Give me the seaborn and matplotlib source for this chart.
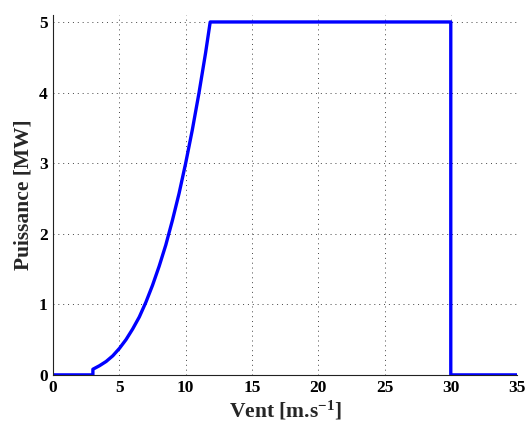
import numpy as np
import pandas as pd
import matplotlib
matplotlib.use('Agg')
import matplotlib.pyplot as plt
import seaborn as sns
from matplotlib.ticker import MultipleLocator

# courbe de puissance
vent = [0, 3.0, 3.0, 3.5, 4.0, 4.5, 5.0, 5.5, 6.0, 6.5, 7.0, 7.5, 8.0, 8.5,
        9.0, 9.5, 10.0, 10.5, 11.0, 11.5, 11.85, 30.0, 30.0, 35.0]
puissance = [0, 0, 0.08, 0.13, 0.19, 0.27, 0.375, 0.50, 0.65, 0.82, 1.03, 1.27,
             1.54, 1.84, 2.19, 2.57, 3.0, 3.47, 3.99, 4.56, 5.0, 5.0, 0, 0]
x_ticks = [0, 5, 10, 15, 20, 25, 30, 35]
y_ticks = [0, 1, 2, 3, 4, 5]

df = pd.DataFrame({'vent': vent, 'puissance': puissance})

sns.set_style('white')
plt.rcParams['font.family'] = ['Liberation Serif', 'DejaVu Serif']
plt.rcParams['font.weight'] = 'bold'
plt.rcParams['mathtext.fontset'] = 'custom'
plt.rcParams['mathtext.rm'] = 'Liberation Serif:bold'
plt.rcParams['mathtext.bf'] = 'Liberation Serif:bold'
plt.rcParams['mathtext.it'] = 'Liberation Serif:bold'

fig = plt.figure(figsize=(5.26, 4.26), dpi=100)
ax = fig.add_axes([0.101, 0.12, 0.882, 0.845])

sns.lineplot(data=df, x='vent', y='puissance', sort=False, estimator=None,
             color='#0000FF', linewidth=2.4, ax=ax)

ax.set_xlim(0, 35)
ax.set_ylim(0, 5.1)
ax.set_xticks(x_ticks)
ax.set_yticks(y_ticks)
ax.xaxis.set_minor_locator(MultipleLocator(0.5))
ax.yaxis.set_minor_locator(MultipleLocator(0.1))
ax.tick_params(which='major', direction='in', length=4, width=0.8, labelsize=12.5,
               colors='black', pad=4)
ax.tick_params(which='minor', direction='in', length=2, width=0.5)
for lab in ax.get_xticklabels() + ax.get_yticklabels():
    lab.set_fontweight('bold')

ax.grid(True, which='major', linestyle=(0, (1, 4)), color='#444444', linewidth=0.7)
for side in ['top', 'right']:
    ax.spines[side].set_visible(False)
for side in ['left', 'bottom']:
    ax.spines[side].set_color('#222222')
    ax.spines[side].set_linewidth(0.8)

ax.set_xlabel(r'Vent [m.s$^{-1}$]', fontsize=15.5, fontweight='bold', labelpad=2)
ax.set_ylabel('Puissance [MW]', fontsize=15.5, fontweight='bold', labelpad=4)

fig.savefig('out.png', dpi=100)
